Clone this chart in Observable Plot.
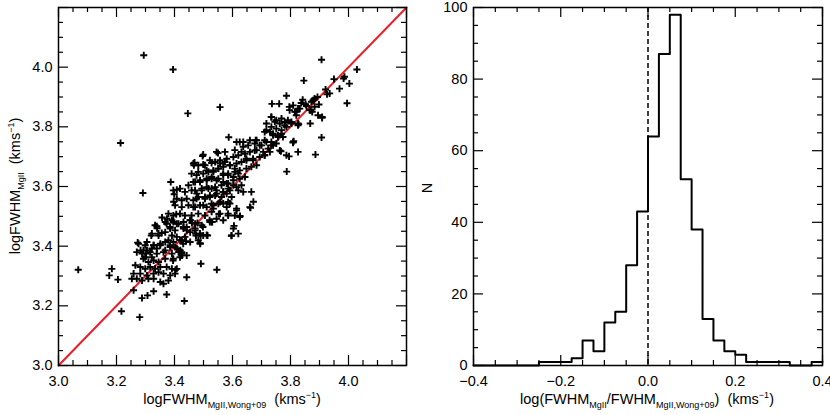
<!DOCTYPE html>
<html>
<head>
<meta charset="utf-8">
<script src="https://cdn.jsdelivr.net/npm/d3@7"></script>
<script src="https://cdn.jsdelivr.net/npm/@observablehq/plot@0.6"></script>
<style>
  html, body { margin: 0; padding: 0; background: white; }
  #wrap { display: flex; width: 830px; height: 415px; overflow: hidden; }
  #wrap > svg { flex: none; }
</style>
</head>
<body>
<div id="wrap"></div>
<script>
// ---- Left panel: logFWHM(MgII, Wong+09) vs logFWHM(MgII) -- [x, y] pairs
const scatterPoints = [
  [3.068,3.321],[3.294,4.040],[3.395,3.992],[3.214,3.746],[3.446,3.845],[3.557,3.866],[3.587,3.765],
  [3.907,4.025],[3.846,3.955],[4.029,3.992],[3.950,3.960],[3.986,3.968],[3.983,3.962],[3.969,3.928],
  [4.003,3.945],[3.926,3.909],[3.995,3.879],[3.898,3.875],[3.909,3.830],[3.907,3.764],[3.886,3.707],
  [3.868,3.811],[3.786,3.904],[3.761,3.877],[3.736,3.877],[3.796,3.867],[3.795,3.701],[3.787,3.650],
  [3.767,3.718],[3.809,3.747],[3.826,3.716],[3.828,3.809],[3.842,3.891],[3.878,3.889],[3.893,3.900],
  [3.870,3.856],[3.855,3.870],[3.491,3.341],[3.546,3.321],[3.596,3.435],[3.605,3.468],[3.662,3.529],
  [3.672,3.549],[3.626,3.501],[3.521,3.487],[3.553,3.508],[3.291,3.578],
  // lower-left cluster
  [3.339,3.467],[3.320,3.436],[3.345,3.436],[3.356,3.444],[3.373,3.475],[3.385,3.464],[3.396,3.481],
  [3.414,3.475],[3.431,3.464],[3.442,3.453],[3.391,3.436],[3.408,3.431],[3.425,3.420],[3.276,3.408],
  [3.299,3.403],[3.328,3.403],[3.351,3.403],[3.368,3.414],[3.385,3.403],[3.402,3.397],[3.414,3.380],
  [3.425,3.375],[3.270,3.380],[3.288,3.375],[3.305,3.386],[3.322,3.392],[3.339,3.375],[3.362,3.380],
  [3.391,3.375],[3.293,3.358],[3.310,3.347],[3.328,3.352],[3.345,3.347],[3.368,3.358],[3.396,3.358],
  [3.265,3.336],[3.282,3.330],[3.299,3.324],[3.316,3.330],[3.333,3.324],[3.351,3.330],[3.373,3.330],
  [3.391,3.324],[3.408,3.324],[3.259,3.308],[3.282,3.308],[3.305,3.302],[3.328,3.308],[3.345,3.313],
  [3.362,3.308],[3.385,3.302],[3.402,3.308],[3.184,3.324],[3.175,3.302],[3.205,3.288],[3.253,3.291],
  [3.270,3.291],[3.288,3.285],[3.310,3.291],[3.328,3.291],[3.351,3.280],[3.362,3.274],[3.379,3.285],
  [3.442,3.296],[3.259,3.252],[3.288,3.226],[3.307,3.235],[3.328,3.249],[3.373,3.238],[3.434,3.216],
  [3.217,3.182],[3.280,3.162],
  // central cluster
  [3.467,3.671],[3.499,3.674],[3.528,3.679],[3.557,3.677],[3.574,3.682],[3.591,3.671],[3.608,3.660],
  [3.620,3.643],[3.482,3.649],[3.511,3.654],[3.534,3.649],[3.551,3.660],[3.568,3.643],[3.585,3.638],
  [3.603,3.632],[3.387,3.615],[3.448,3.604],[3.471,3.615],[3.488,3.621],[3.511,3.626],[3.528,3.632],
  [3.545,3.621],[3.568,3.615],[3.585,3.610],[3.603,3.604],[3.396,3.587],[3.419,3.593],[3.436,3.582],
  [3.459,3.587],[3.477,3.576],[3.494,3.593],[3.511,3.598],[3.528,3.593],[3.545,3.587],[3.568,3.582],
  [3.585,3.593],[3.408,3.559],[3.425,3.554],[3.442,3.559],[3.465,3.554],[3.482,3.565],[3.505,3.559],
  [3.522,3.565],[3.540,3.570],[3.562,3.565],[3.580,3.576],[3.402,3.537],[3.425,3.531],[3.448,3.537],
  [3.471,3.531],[3.488,3.537],[3.511,3.531],[3.534,3.537],[3.551,3.542],[3.580,3.531],[3.614,3.520],
  [3.379,3.509],[3.396,3.503],[3.419,3.509],[3.436,3.503],[3.459,3.503],[3.482,3.509],[3.505,3.503],
  [3.528,3.515],[3.557,3.509],[3.585,3.509],[3.608,3.503],[3.368,3.481],[3.391,3.487],[3.408,3.475],
  [3.431,3.481],[3.454,3.487],[3.471,3.475],[3.494,3.470],[3.522,3.481],[3.568,3.487],[3.625,3.498],
  [3.333,3.470],[3.322,3.442],[3.345,3.442],[3.368,3.447],[3.385,3.459],[3.402,3.453],[3.431,3.459],
  [3.454,3.447],[3.471,3.453],[3.499,3.436],[3.528,3.481],[3.603,3.459],[3.597,3.436],[3.620,3.442],
  [3.305,3.414],[3.328,3.403],[3.351,3.408],[3.379,3.420],[3.396,3.414],[3.419,3.420],[3.436,3.431],
  [3.454,3.414],[3.482,3.420],[3.488,3.442],[3.293,3.386],[3.316,3.380],[3.339,3.392],[3.368,3.386],
  [3.385,3.397],[3.408,3.392],[3.425,3.380],[3.299,3.363],[3.322,3.363],[3.419,3.363],[3.442,3.369],
  // upper-central cluster
  [3.625,3.749],[3.499,3.707],[3.545,3.716],[3.574,3.716],[3.608,3.722],[3.637,3.733],[3.654,3.738],
  [3.677,3.744],[3.700,3.738],[3.734,3.833],[3.746,3.817],[3.763,3.811],[3.780,3.805],[3.791,3.822],
  [3.717,3.789],[3.729,3.783],[3.740,3.772],[3.757,3.766],[3.769,3.777],[3.711,3.755],[3.734,3.749],
  [3.751,3.744],[3.763,3.721],[3.786,3.705],[3.465,3.677],[3.482,3.671],[3.505,3.671],[3.522,3.688],
  [3.540,3.682],[3.557,3.688],[3.580,3.693],[3.603,3.699],[3.620,3.705],[3.643,3.710],[3.660,3.716],
  [3.683,3.722],[3.706,3.716],[3.723,3.727],[3.740,3.738],[3.459,3.643],[3.476,3.638],[3.499,3.643],
  [3.517,3.649],[3.534,3.654],[3.551,3.660],[3.568,3.666],[3.591,3.671],[3.614,3.677],[3.631,3.682],
  [3.648,3.688],[3.671,3.693],[3.694,3.699],[3.711,3.705],[3.729,3.716],[3.465,3.615],[3.488,3.615],
  [3.511,3.621],[3.528,3.626],[3.551,3.626],[3.568,3.638],[3.585,3.643],[3.608,3.649],[3.625,3.654],
  [3.648,3.660],[3.665,3.666],[3.683,3.671],[3.471,3.587],[3.494,3.587],[3.517,3.593],[3.540,3.598],
  [3.562,3.604],[3.580,3.610],[3.603,3.621],[3.625,3.626],[3.643,3.632],[3.476,3.559],[3.505,3.565],
  [3.522,3.570],[3.545,3.576],[3.568,3.582],[3.591,3.587],[3.614,3.598],[3.631,3.604],[3.620,3.587],
  [3.637,3.582],[3.597,3.565],[3.585,3.548],[3.614,3.526],[3.665,3.582],[3.660,3.531],[3.465,3.531],
  [3.499,3.537],[3.528,3.542],[3.557,3.548],
  // upper-right cluster
  [3.921,3.925],[3.935,3.912],[3.837,3.880],[3.872,3.884],[3.734,3.833],[3.751,3.822],[3.769,3.828],
  [3.780,3.816],[3.797,3.856],[3.820,3.850],[3.832,3.861],[3.866,3.856],[3.883,3.867],[3.895,3.839],
  [3.909,3.833],[3.717,3.811],[3.734,3.800],[3.751,3.794],[3.769,3.789],[3.786,3.800],[3.803,3.811],
  [3.826,3.805],[3.711,3.783],[3.740,3.777],[3.757,3.772],[3.774,3.766],[3.809,3.749],[3.683,3.755],
  [3.694,3.738],[3.717,3.749],[3.734,3.738],[3.677,3.721],[3.637,3.749],[3.631,3.716],[3.648,3.693],
  [3.671,3.688],[3.711,3.705],[3.852,3.876],[3.883,3.895],[3.875,3.850],[3.815,3.850],[3.826,3.861],
  [3.809,3.872],[3.820,3.839],[3.803,3.816],[3.826,3.811],[3.811,3.752],
  // extra points
  [3.585,3.503],[3.545,3.492],[3.530,3.481],[3.514,3.436],[3.490,3.436],[3.474,3.436],[3.488,3.410],
  [3.440,3.417],[3.568,3.543],[3.591,3.543],[3.534,3.526],[3.471,3.459],[3.442,3.464],[3.454,3.487],
  [3.473,3.442],[3.489,3.408],[3.498,3.464],[3.479,3.478],[3.511,3.437],[3.460,3.478],[3.420,3.386],
  [3.430,3.408],[3.426,3.369],[3.403,3.321],[3.395,3.352],[3.273,3.412],[3.283,3.386],[3.302,3.375],
  [3.357,3.496],[3.340,3.460],[3.374,3.492],[3.406,3.507],[3.397,3.549],[3.408,3.589],[3.399,3.574],
  [3.469,3.680],[3.497,3.702],[3.550,3.712],[3.614,3.749],[3.660,3.755],[3.680,3.755]
];
const oneToOne = [3.0, 4.2];

// ---- Right panel: histogram of log(FWHM_MgII / FWHM_MgII,Wong+09)
const binStarts = [-0.400,-0.375,-0.350,-0.325,-0.300,-0.275,-0.250,-0.225,-0.200,-0.175,-0.150,-0.125,
  -0.100,-0.075,-0.050,-0.025,0.000,0.025,0.050,0.075,0.100,0.125,0.150,0.175,0.200,0.225,0.250,
  0.275,0.300,0.325,0.350,0.375];
const binCounts = [0,0,0,0,0,0,1,1,1,2,7,4,12,15,28,43,64,87,98,52,38,13,7,4,3,1,1,1,1,0,0,1];
const histEnd = 0.4;

// ticks
const leftMajor = [3.0,3.2,3.4,3.6,3.8,4.0,4.2];
const leftLabels = [3.0,3.2,3.4,3.6,3.8,4.0];
const leftMinor = [3.05,3.1,3.15,3.25,3.3,3.35,3.45,3.5,3.55,3.65,3.7,3.75,3.85,3.9,3.95,4.05,4.1,4.15];
const histXMajor = [-0.4,-0.2,0,0.2,0.4];
const histXMinor = [-0.35,-0.3,-0.25,-0.15,-0.1,-0.05,0.05,0.1,0.15,0.25,0.3,0.35];
const histYMajor = [0,20,40,60,80,100];
const histYMinor = [5,10,15,25,30,35,45,50,55,65,70,75,85,90,95];

const FONT = "'Liberation Sans', Arial, Helvetica, sans-serif";
const MAJ = 10, MIN = 5;
const W = 415, H = 415, ML = 58, MT = 7, MB = 50;
const PH = H - MT - MB;

// IDL-style inward ticks on all four sides
function boxTicks(xMaj, xMin, yMaj, yMin, pw) {
  const s = {stroke: "black", strokeWidth: 1.2};
  const xs = (vals, len) => [
    Plot.ruleX(vals, {x: d => d, insetTop: PH - len, ...s}),
    Plot.ruleX(vals, {x: d => d, insetBottom: PH - len, ...s})
  ];
  const ys = (vals, len) => [
    Plot.ruleY(vals, {y: d => d, insetRight: pw - len, ...s}),
    Plot.ruleY(vals, {y: d => d, insetLeft: pw - len, ...s})
  ];
  return [...xs(xMaj, MAJ), ...xs(xMin, MIN), ...ys(yMaj, MAJ), ...ys(yMin, MIN)];
}
function labels(xLab, yLab, xFmt, yFmt) {
  return [
    Plot.axisX({anchor: "bottom", ticks: xLab, tickSize: 0, tickPadding: 10, tickFormat: xFmt, label: null}),
    Plot.axisY({anchor: "left", ticks: yLab, tickSize: 0, tickPadding: 6, tickFormat: yFmt, label: null})
  ];
}

const common = {
  width: W, height: H,
  marginLeft: ML, marginTop: MT, marginBottom: MB,
  style: {fontFamily: FONT, fontSize: "14.5px", color: "black", background: "white", overflow: "visible"}
};

const left = Plot.plot({
  ...common,
  marginRight: 9,
  x: {domain: [3.0, 4.2]},
  y: {domain: [3.0, 4.2]},
  marks: [
    Plot.line(oneToOne, {x: d => d, y: d => d, stroke: "#ee1c25", strokeWidth: 2}),
    Plot.dot(scatterPoints, {x: d => d[0], y: d => d[1], symbol: "plus", r: 2.4, stroke: "black", strokeWidth: 1.9}),
    ...boxTicks(leftMajor, leftMinor, leftMajor, leftMinor, W - ML - 9),
    ...labels(leftLabels, leftLabels, d3.format(".1f"), d3.format(".1f")),
    Plot.frame({stroke: "black", strokeWidth: 1.5})
  ]
});

const histPoints = binStarts.map((x, i) => ({x, n: binCounts[i]})).concat([{x: histEnd, n: binCounts[binCounts.length - 1]}]);

const right = Plot.plot({
  ...common,
  marginRight: 8,
  x: {domain: [-0.4, 0.4], label: null},
  y: {domain: [0, 100], label: null},
  marks: [
    Plot.line(histPoints, {x: "x", y: "n", curve: "step-after", stroke: "black", strokeWidth: 2}),
    Plot.ruleX([0], {x: d => d, stroke: "black", strokeWidth: 1.5, strokeDasharray: "5,3"}),
    ...boxTicks(histXMajor, histXMinor, histYMajor, histYMinor, W - ML - 8),
    ...labels(histXMajor, histYMajor, d3.format(".1f"), d3.format("d")),
    Plot.frame({stroke: "black", strokeWidth: 1.5})
  ]
});

document.getElementById("wrap").append(left, right);

// Axis titles with sub/superscripts
function title(svg, x, y, rotate, parts) {
  const t = d3.select(svg).append("text")
    .attr("text-anchor", "middle")
    .attr("font-family", FONT)
    .attr("font-size", 14.5)
    .attr("fill", "black")
    .attr("transform", `translate(${x},${y})` + (rotate ? " rotate(-90)" : ""));
  let shift = 0;
  for (const [txt, kind] of parts) {
    const target = kind === "sub" ? 4 : kind === "sup" ? -6 : 0;
    t.append("tspan")
      .attr("dy", target - shift)
      .attr("font-size", kind ? 9 : 14.5)
      .text(txt);
    shift = target;
  }
}
title(left, 232, 404, false, [["logFWHM"], ["MgII,Wong+09", "sub"], ["  (kms"], ["−1", "sup"], [")"]]);
title(left, 20, 186, true, [["logFWHM"], ["MgII", "sub"], ["  (kms"], ["−1", "sup"], [")"]]);
title(right, 232, 404, false, [["log(FWHM"], ["MgII", "sub"], ["/FWHM"], ["MgII,Wong+09", "sub"], [")  (kms"], ["−1", "sup"], [")"]]);
title(right, 17, 188, true, [["N"]]);
</script>
</body>
</html>
